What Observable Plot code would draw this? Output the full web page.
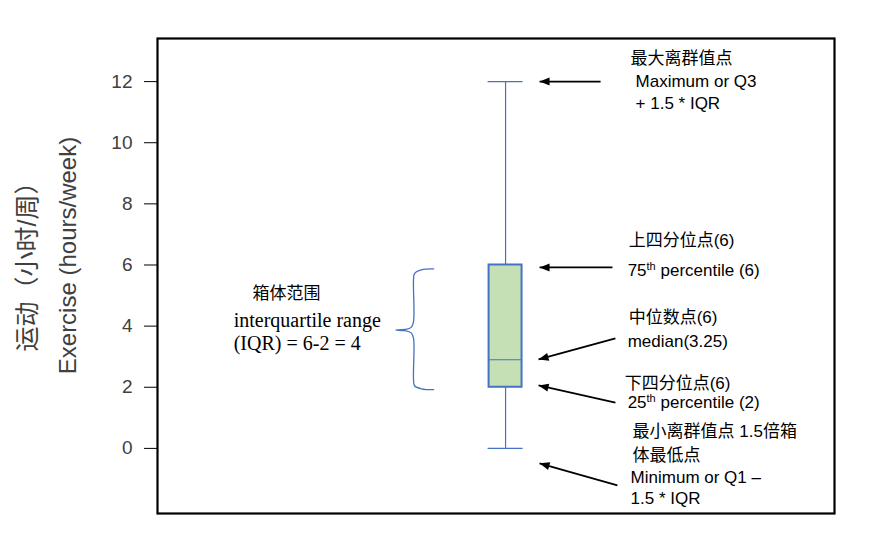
<!DOCTYPE html>
<html>
<head>
<meta charset="utf-8">
<script src="https://cdn.jsdelivr.net/npm/d3@7"></script>
<script src="https://cdn.jsdelivr.net/npm/@observablehq/plot@0.6"></script>
<style>
  html, body { margin: 0; padding: 0; background: #fff; }
</style>
</head>
<body>
<div id="chart"></div>
<script>
// ---- data ----
const stats = { min: 0, q1: 2, median: 2.9, q3: 6, max: 12 };
const yTicks = [0, 2, 4, 6, 8, 10, 12];
const yTitleCn = "运动（小时/周）";
const yTitleEn = "Exercise (hours/week)";

// annotation texts (x, y in chart units; box center x = 0, box width = 1)
const notes = [
  {x: 3.79, y: 12.75, t: "最大离群值点"},
  {x: 3.94, y: 12.0,  t: "Maximum or Q3"},
  {x: 3.94, y: 11.28, t: "+ 1.5 * IQR"},
  {x: 3.73, y: 6.80,  t: "上四分位点(6)"},
  {x: 3.70, y: 5.82,  t: "75th percentile (6)"},
  {x: 3.73, y: 4.28,  t: "中位数点(6)"},
  {x: 3.70, y: 3.50,  t: "median(3.25)"},
  {x: 3.61, y: 2.13,  t: "下四分位点(6)"},
  {x: 3.70, y: 1.50,  t: "25th percentile (2)"},
  {x: 3.85, y: 0.56,  t: "最小离群值点 1.5倍箱"},
  {x: 3.85, y: -0.23, t: "体最低点"},
  {x: 3.79, y: -0.95, t: "Minimum or Q1 –"},
  {x: 3.79, y: -1.64, t: "1.5 * IQR"}
];
const iqrNotes = [
  {x: -7.67, y: 5.07, t: "箱体范围", serif: false},
  {x: -8.24, y: 4.19, t: "interquartile range", serif: true},
  {x: -8.24, y: 3.43, t: "(IQR) = 6-2 = 4", serif: true}
];
const arrows = [
  {x1: 2.88, y1: 12.0,  x2: 1.03, y2: 12.0},
  {x1: 3.24, y1: 5.92,  x2: 1.03, y2: 5.92},
  {x1: 3.33, y1: 3.60,  x2: 1.00, y2: 2.91},
  {x1: 3.33, y1: 1.50,  x2: 1.00, y2: 2.06},
  {x1: 3.39, y1: -1.21, x2: 1.03, y2: -0.49}
];
const brace = [
  [-2.18, 5.87], [-2.55, 5.84], [-2.76, 5.72], [-2.79, 5.5], [-2.79, 4.15],
  [-2.86, 3.96], [-3.05, 3.89], [-3.33, 3.87],
  [-3.05, 3.85], [-2.86, 3.78], [-2.79, 3.6], [-2.79, 2.25],
  [-2.76, 2.05], [-2.55, 1.95], [-2.18, 1.92]
];

// ---- layout ----
const W = 881, H = 545;
const mL = 157, mR = 47, mT = 38, mB = 32;
const xDomain = [-10.55, 9.97];
const yDomain = [-2.13, 13.41];
const kx = (W - mL - mR) / (xDomain[1] - xDomain[0]);
const ky = (H - mT - mB) / (yDomain[1] - yDomain[0]);
const blue = "#4472C4";
const sans = "'Liberation Sans', Arial, 'Noto Sans CJK SC', sans-serif";
const serif = "'Liberation Serif', 'Times New Roman', 'Noto Sans CJK SC', serif";

const arrowHead = {
  draw(ctx, size) {
    const L = 10, w = 8;
    ctx.moveTo(0, 0);
    ctx.lineTo(-w / 2, L);
    ctx.lineTo(w / 2, L);
    ctx.closePath();
  }
};
const heads = arrows.map(a => {
  const dx = (a.x2 - a.x1) * kx, dy = -(a.y2 - a.y1) * ky;
  return {x: a.x2, y: a.y2, rot: Math.atan2(dx, -dy) * 180 / Math.PI};
});

const chart = Plot.plot({
  width: W, height: H,
  marginLeft: mL, marginRight: mR, marginTop: mT, marginBottom: mB,
  style: {background: "#fff", fontFamily: sans, overflow: "visible"},
  x: {domain: xDomain, axis: null},
  y: {domain: yDomain, axis: null},
  marks: [
    Plot.axisY({ticks: yTicks, tickSize: 13, tickPadding: 12, fontSize: 19,
      color: "#404040", stroke: "#000", tickFormat: d => d, label: null}),
    // box plot
    Plot.ruleX([stats], {x: 0, y1: "q3", y2: "max", stroke: blue, strokeWidth: 1.2}),
    Plot.ruleX([stats], {x: 0, y1: "min", y2: "q1", stroke: blue, strokeWidth: 1.2}),
    Plot.ruleY([stats.max, stats.min], {x1: -0.53, x2: 0.53, stroke: blue, strokeWidth: 1.2}),
    Plot.rect([stats], {x1: -0.5, x2: 0.5, y1: "q1", y2: "q3", fill: "#C5E0B4", stroke: blue, strokeWidth: 2}),
    Plot.ruleY([stats.median], {x1: -0.5, x2: 0.5, stroke: blue, strokeWidth: 1.2}),
    // brace
    Plot.line(brace, {x: d => d[0], y: d => d[1], curve: "catmull-rom", stroke: blue, strokeWidth: 1.3}),
    // arrows
    Plot.link(arrows, {x1: "x1", y1: "y1", x2: "x2", y2: "y2", stroke: "#000", strokeWidth: 1.8}),
    Plot.dot(heads, {x: "x", y: "y", rotate: "rot", symbol: arrowHead, r: 5, fill: "#000", stroke: "none"}),
    // annotations
    Plot.text(notes, {x: "x", y: "y", text: "t", textAnchor: "start", fontSize: 17, fill: "#000"}),
    Plot.text(iqrNotes.filter(d => !d.serif), {x: "x", y: "y", text: "t", textAnchor: "start", fontSize: 17, fill: "#000"}),
    Plot.text(iqrNotes.filter(d => d.serif), {x: "x", y: "y", text: "t", textAnchor: "start", fontSize: 20, fill: "#000", fontFamily: serif}),
    // y titles
    Plot.text([yTitleCn], {x: -14.48, y: 6.15, text: d => d, rotate: -90, fontSize: 25, fill: "#404040", letterSpacing: "1.5px"}),
    Plot.text([yTitleEn], {x: -13.24, y: 6.31, text: d => d, rotate: -90, fontSize: 24, fill: "#404040"}),
    Plot.frame({stroke: "#000", strokeWidth: 2.2})
  ]
});

// superscripts for ordinal suffixes
chart.querySelectorAll("text").forEach(t => {
  const m = /^(\d+)(th)( .*)$/.exec(t.textContent);
  if (!m) return;
  t.textContent = "";
  const ns = "http://www.w3.org/2000/svg";
  const a = document.createElementNS(ns, "tspan"); a.textContent = m[1];
  const b = document.createElementNS(ns, "tspan"); b.textContent = m[2];
  b.setAttribute("font-size", "11"); b.setAttribute("dy", "-6");
  const c = document.createElementNS(ns, "tspan"); c.textContent = m[3];
  c.setAttribute("dy", "6");
  t.append(a, b, c);
});

document.getElementById("chart").append(chart);
</script>
</body>
</html>
